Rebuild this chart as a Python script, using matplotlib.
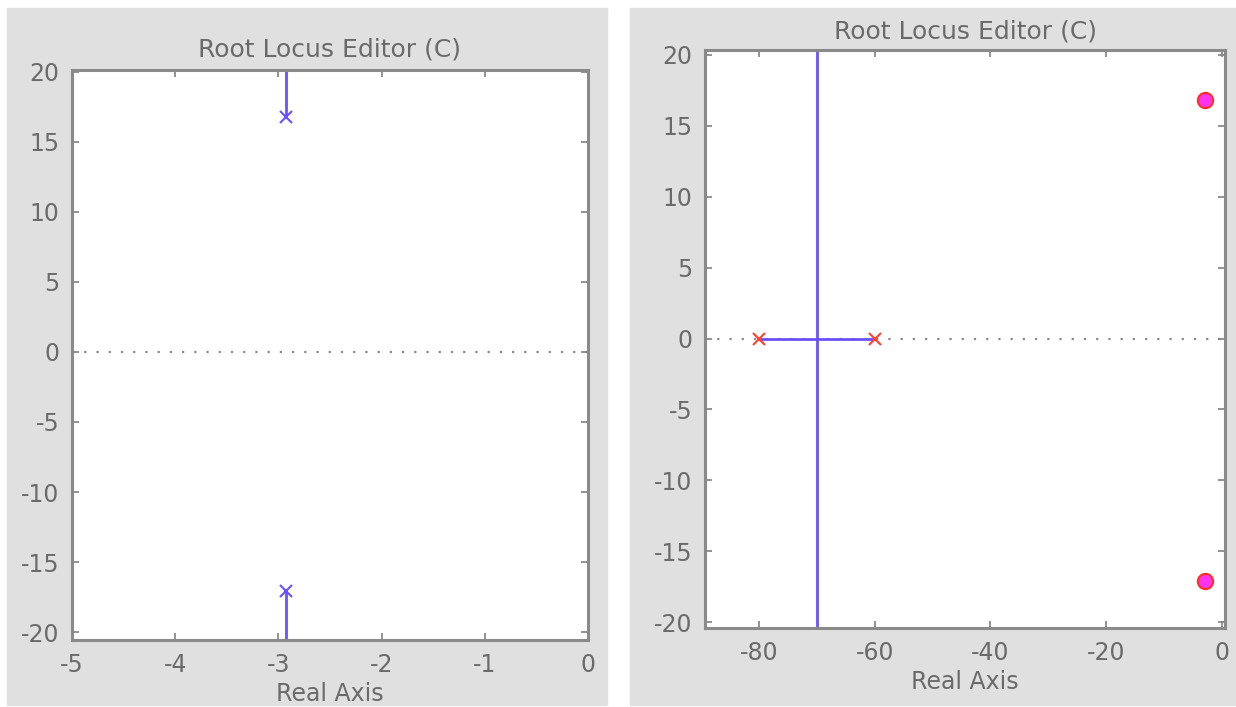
import matplotlib.pyplot as plt
from matplotlib.patches import Rectangle

plt.rcParams['font.family'] = ['DejaVu Sans']
plt.rcParams['axes.unicode_minus'] = False

# left editor: closed-loop poles and their branches
left_pole_re = [-2.93, -2.93]
left_pole_im = [16.8, -17.1]
left_branch_end = [25, -25]

# right editor: open-loop poles, zeros, branches
right_pole_re = [-80, -60]
right_pole_im = [0, 0]
right_zero_re = [-2.93, -2.93]
right_zero_im = [16.8, -17.1]
break_re = -70
vert_branch_im = [-25, 25]

left_xticks = [-5, -4, -3, -2, -1, 0]
right_xticks = [-80, -60, -40, -20, 0]
yticks = [-20, -15, -10, -5, 0, 5, 10, 15, 20]

locus_blue = "#6a50ff"
text_gray = "#6a6a6a"
bg_gray = "#e0e0e0"

fig = plt.figure(figsize=(12.36, 7.07), dpi=100)
fig.patch.set_facecolor("white")
fig.patches.append(Rectangle((7/1236, 2/707), 600/1236, 697/707,
                             transform=fig.transFigure, color=bg_gray, zorder=-5))
fig.patches.append(Rectangle((630/1236, 2/707), 606/1236, 697/707,
                             transform=fig.transFigure, color=bg_gray, zorder=-5))

ax1 = fig.add_axes([72/1236, (707-640)/707, 516/1236, 570/707])
ax2 = fig.add_axes([705/1236, (707-628)/707, 520/1236, 578/707])


def style(ax, xticks):
    ax.set_facecolor("white")
    ax.set_xticks(xticks)
    ax.set_yticks(yticks)
    ax.tick_params(direction="in", top=True, right=True, length=5, width=1.2,
                   color="#808080", labelcolor=text_gray, labelsize=17, pad=9)
    for s in ax.spines.values():
        s.set_color("#8a8a8a")
        s.set_linewidth(2.2)
    ax.set_xlabel("Real Axis", color=text_gray, fontsize=17, labelpad=4)


# left panel
ax1.axhline(0, color="#8a8a8a", linestyle=(0, (1, 4.5)), linewidth=1.6, zorder=1)
for re, im, end in zip(left_pole_re, left_pole_im, left_branch_end):
    ax1.plot([re, re], [im, end], color=locus_blue, linewidth=2, zorder=2)
ax1.plot(left_pole_re, left_pole_im, "x", color=locus_blue, markersize=9,
         markeredgewidth=1.5, zorder=3)
ax1.set_xlim(-5, 0)
ax1.set_ylim(-20.57, 20.14)
style(ax1, left_xticks)
ax1.set_title("Root Locus Editor (C)", color=text_gray, fontsize=18, pad=10)

# right panel
ax2.axhline(0, color="#8a8a8a", linestyle=(0, (1, 4.5)), linewidth=1.6, zorder=1)
ax2.plot(right_pole_re, right_pole_im, color=locus_blue, linewidth=2, zorder=2)
ax2.plot([break_re, break_re], vert_branch_im, color=locus_blue, linewidth=2, zorder=2)
ax2.plot(right_pole_re, right_pole_im, "x", color="#ff4030", markersize=9,
         markeredgewidth=1.5, zorder=3)
ax2.plot(right_zero_re, right_zero_im, "o", color="#ff33ee", markeredgecolor="#ff3020",
         markersize=11, markeredgewidth=1.5, zorder=3)
ax2.set_xlim(-89.3, 0.5)
ax2.set_ylim(-20.42, 20.35)
style(ax2, right_xticks)
ax2.set_title("Root Locus Editor (C)", color=text_gray, fontsize=18, pad=8)

fig.savefig("out.png", dpi=100)
